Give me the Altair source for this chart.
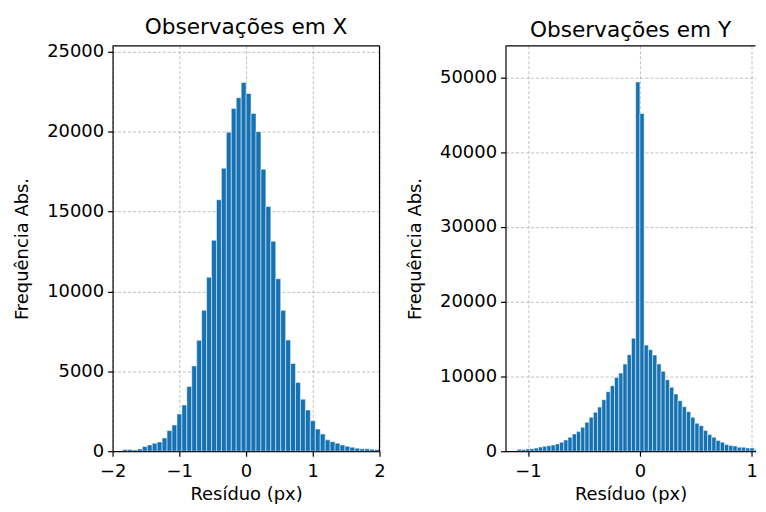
import altair as alt
import pandas as pd

# ---- data ----
# Left panel (X residuals): 52 bins starting at -1.85, width ~0.0740
x_bin_start = -1.85
x_bin_width = 0.07404
x_counts = [104, 104, 83, 146, 290, 395, 500, 580, 830, 1290, 1640,
            2330, 2890, 4050, 5340, 6940, 8815, 10890, 13200, 15740, 17710,
            19960, 21450, 22120, 23080,
            22390, 21140, 20000, 17650, 15320, 13140, 10790, 8815, 6960, 5490,
            4300, 3260, 2580, 1910,
            1390, 1085, 710, 600, 500, 395, 310, 250, 190, 150, 150, 125, 110]

# Right panel (Y residuals): bins starting at -1.0962, width ~0.0378
y_bin_start = -1.0962
y_bin_width = 0.0378
y_counts = [267, 240, 300, 340, 420, 560, 650, 740, 820, 980,
            1200, 1510, 1870, 2310, 2620, 3200, 3870, 4540, 5200, 5900,
            6890, 7960, 8760, 9870, 10450, 11650, 12900, 15120, 49370, 45160,
            14190, 13570, 12850, 11650, 10680, 9560, 8540, 7650, 6760, 5960,
            5290, 4540, 3740, 3420, 2760, 2220, 1870, 1420, 1200, 890,
            760, 700, 530, 530, 440, 440, 270, 220, 220]

x_ticks = [-2, -1, 0, 1, 2]
y_ticks_left = [0, 5000, 10000, 15000, 20000, 25000]
x_ticks_right = [-1, 0, 1]
y_ticks_right = [0, 10000, 20000, 30000, 40000, 50000]

titles = ["Observações em X", "Observações em Y"]
x_title = "Resíduo (px)"
y_title = "Frequência Abs."

BAR = "#1772b4"
FONT = "DejaVu Sans"


def make_df(start, width, counts):
    rows = []
    for i, c in enumerate(counts):
        a = start + i * width
        rows.append({"x0": a, "x1": a + width, "n": c})
    return pd.DataFrame(rows)


def panel(df, title, xdom, ydom, xt, yt, w, h, right_spine):
    xs = alt.Scale(domain=xdom, nice=False, zero=False)
    ys = alt.Scale(domain=ydom, nice=False, zero=False)
    bars = alt.Chart(df).mark_bar(
        color=BAR, stroke="white", strokeWidth=0.5, clip=True
    ).encode(
        x=alt.X("x0:Q", scale=xs,
                axis=alt.Axis(values=xt, format="d", title=x_title)),
        x2="x1:Q",
        y=alt.Y("n:Q", scale=ys,
                axis=alt.Axis(values=yt, format="d", title=y_title)),
        y2=alt.datum(0),
    )
    one = pd.DataFrame({"a": [0]})
    top = alt.Chart(one).mark_rule(color="black", strokeWidth=1.2).encode(
        x=alt.value(0), x2=alt.value(w), y=alt.value(0))
    layers = [bars, top]
    if right_spine:
        r = alt.Chart(one).mark_rule(color="black", strokeWidth=1.2).encode(
            x=alt.value(w), y=alt.value(0), y2=alt.value(h))
        layers.append(r)
    return alt.layer(*layers).properties(
        width=w, height=h,
        title=alt.TitleParams(title, fontSize=21.7, font=FONT,
                              fontWeight="normal", color="black",
                              anchor="middle", offset=4),
    )


left = panel(make_df(x_bin_start, x_bin_width, x_counts), titles[0],
             [-2, 2], [0, 25370], x_ticks, y_ticks_left, 268, 407, True)
right = panel(make_df(y_bin_start, y_bin_width, y_counts), titles[1],
              [-1.201, 1.033], [0, 54200], x_ticks_right, y_ticks_right,
              251, 407, False)

chart = alt.hconcat(left, right, spacing=20.5).properties(
    padding={"left": 5, "top": 8, "right": 0, "bottom": 0}
).configure_view(stroke=None).configure_axis(
    domainColor="black", domainWidth=1.2, tickColor="black", tickSize=5,
    tickWidth=1.2, labelFont=FONT, labelFontSize=18, labelColor="black",
    labelPadding=4, labelFlush=False, titleFont=FONT, titleFontSize=18,
    titleFontWeight="normal", titleColor="black",
    gridColor="#b0b0b0", gridDash=[3, 2], gridWidth=0.8, zindex=1,
).configure_axisY(titlePadding=15).configure_axisX(
    labelPadding=6, titlePadding=5)

chart.save("out.html", embed_options={"renderer": "svg", "actions": False})
